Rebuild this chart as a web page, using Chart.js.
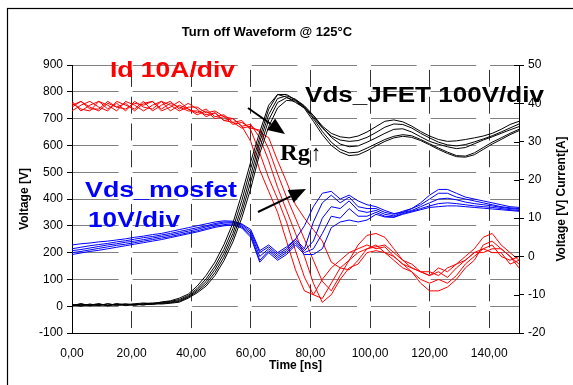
<!DOCTYPE html>
<html>
<head>
<meta charset="utf-8">
<script src="https://cdn.jsdelivr.net/npm/chart.js@4.4.1/dist/chart.umd.min.js"></script>
<style>
  html, body { margin: 0; padding: 0; background: #fff; }
  #wrap { width: 573px; height: 385px; }
</style>
</head>
<body>
<div id="wrap"><canvas id="chart" width="573" height="385"></canvas></div>
<script>
// Turn off waveform data
const timeNs = [0, 3, 6, 9, 12, 15, 18, 21, 24, 27, 30, 33, 36, 39, 42, 45, 48, 51, 54, 57,
    60, 63, 66, 69, 72, 75, 78, 81, 84, 87, 90, 93, 96, 99, 102, 105, 108, 111, 114, 117,
    120, 123, 126, 129, 132, 135, 138, 141, 144, 147, 150];

const xTicks = [0, 20, 40, 60, 80, 100, 120, 140];
const leftTicks = [-100, 0, 100, 200, 300, 400, 500, 600, 700, 800, 900];
const rightTicks = [-20, -10, 0, 10, 20, 30, 40, 50];

// Vds JFET [V], left axis, one array per Rg value
const vdsJfetRuns = [
    [3, 9, 1, 7, 2, 10, 4, 9, 12, 8, 16, 20, 30,
     45, 75, 115, 165, 230, 310, 420, 540, 650, 750, 790, 780,
     760, 740, 712, 672, 645, 632, 628, 635, 650, 670, 690, 695, 688, 672, 652, 635, 622, 615, 617, 622, 628, 635, 645, 660, 678, 690],
    [6, 2, 8, 3, 9, 4, 7, 3, 10, 12, 14, 18, 25,
     40, 66, 102, 150, 212, 290, 395, 515, 630, 735, 790, 790,
     770, 745, 705, 665, 635, 620, 615, 618, 630, 648, 668, 680, 678, 665, 645, 628, 612, 602, 598, 603, 613, 624, 636, 650, 665, 680],
    [1, 7, 4, 10, 1, 6, 9, 5, 8, 6, 12, 15, 21,
     36, 60, 92, 138, 197, 272, 370, 490, 612, 715, 775, 785,
     772, 748, 712, 668, 630, 605, 595, 598, 612, 628, 645, 660, 662, 650, 632, 615, 604, 595, 588, 592, 606, 620, 632, 645, 658, 670],
    [5, 0, 7, 2, 9, 3, 6, 8, 5, 9, 10, 13, 18,
     33, 55, 83, 126, 183, 256, 350, 465, 590, 695, 760, 778,
     768, 742, 700, 652, 612, 585, 572, 575, 590, 606, 622, 634, 640, 636, 622, 606, 590, 575, 562, 560, 572, 592, 612, 628, 645, 660],
    [2, 9, 3, 7, 4, 8, 2, 6, 5, 10, 8, 11, 15,
     30, 50, 75, 115, 170, 240, 330, 440, 570, 670, 740, 768,
     765, 738, 690, 640, 600, 575, 562, 565, 580, 598, 615, 628, 634, 630, 618, 602, 585, 570, 558, 556, 565, 585, 605, 622, 640, 655]
];

// Id [A], right axis
const idRuns = [
    [40.5, 38, 39.5, 40.5, 38.5, 40, 38, 40.5, 39, 38.5, 40.5, 39.5, 38, 39,
     39, 37.5, 38, 36.5, 36, 34,
     30, 22.6, 17, 11.5, 4, -3.5, -9, -10, -6, -3, -1,
     1, 2, 3, 2, 2.5, 0, -2, -3, -4, -5, -4, -5.5, -3, -1, 1, 2, 3, 0, -1, 0],
    [39, 40.5, 38.5, 38.5, 40.5, 39, 40, 38, 40, 40.5, 38, 39, 40.5, 38.5,
     37.5, 38.5, 36.5, 37, 35, 35.5,
     33, 27, 20.5, 15, 9, 1.5, -5.4, -10, -11, -7, -3,
     -1, 1, 2, 3, 1, -1, -3, -4, -6, -7, -6, -7, -5, -2, 0, 2, 1, 1, -2, -1],
    [38, 39.5, 40.5, 39, 38, 40.5, 39.5, 38.5, 40.5, 38, 39.5, 40.5, 38.5, 40,
     38.5, 36.5, 37.5, 35.5, 36, 34,
     34.5, 31, 25, 18, 12, 6, 0, -7, -12, -10, -6,
     -3, -2, 1, 1.5, 1, 0, -2, -4, -7, -9, -9, -8, -6, -3, -1, 3, 4, 2, 0, -2],
    [40, 38.5, 38, 40.5, 39.5, 38, 40.5, 39.5, 38, 39.5, 40.5, 38, 39.5, 38.5,
     37, 38, 36, 36.5, 34.5, 35,
     33.5, 33, 28, 21.5, 15.5, 10, 4.5, -1, -6.5, -9, -5,
     -1, 3, 5.5, 6, 5, 2, -1, -3, -4, -5, -3, -4, -2, 0, 2, 5, 6, 3, 1, -1],
    [39.5, 40.5, 39, 38, 40, 39, 38.5, 40, 39.5, 40.5, 38.5, 40, 39, 38,
     38, 37, 37.5, 35.5, 35, 33.5,
     34, 32.5, 31, 25, 19.5, 13.5, 10, 7, 4, -1.5, -3,
     -3.5, -1, 2, 2.5, 3, 1, -1, -2, -4, -4, -5, -3, -2, -1, 1, 1, 2, 2, 0, -3]
];

// Vds MOSFET [V], right axis
const vdsMosRuns = [
    [3, 3.3, 3.5, 3.8, 4, 4.3, 4.6, 5, 5.3, 5.7, 6, 6.5, 7, 7.5, 8, 8.5, 9, 9.3, 9.2, 8.5,
     7, 1.5, 3, 1, 2.5, 4.5, 8, 13, 16.5, 17, 15, 16, 14.5, 13.5, 13, 12, 11.2, 11.5, 12.5, 14,
     16, 17.5, 17.5, 16.5, 15.5, 15, 14.5, 14, 13.5, 13, 12.8],
    [2, 2.4, 2.8, 3.1, 3.4, 3.8, 4.1, 4.5, 4.9, 5.2, 5.6, 6, 6.5, 7, 7.5, 8, 8.6, 9, 9, 8.3,
     6.5, 1, 2.5, 0.5, 2, 4.5, 2, 9, 14, 16, 14, 15.5, 13, 12.5, 12.5, 11.5, 11, 11.8, 12.5, 13.5,
     15, 16.5, 16.5, 15.5, 15, 14.5, 14, 13.5, 13, 12.7, 12.5],
    [1.5, 1.8, 2.2, 2.6, 3, 3.3, 3.7, 4, 4.4, 4.8, 5.2, 5.6, 6.1, 6.6, 7.1, 7.7, 8.3, 8.7, 8.8, 8,
     6, 0, 2, 0, 1.5, 4, 1.5, 4, 10, 13, 12.5, 14.5, 12, 11.5, 12, 11, 10.6, 11.5, 12, 13,
     14, 15, 15.2, 14.8, 14.2, 13.8, 13.5, 13.2, 12.8, 12.5, 12.3],
    [1, 1.3, 1.7, 2.1, 2.5, 2.9, 3.2, 3.6, 4, 4.4, 4.8, 5.2, 5.7, 6.2, 6.7, 7.3, 7.9, 8.3, 8.5, 7.7,
     5.5, -1, 1.5, -0.5, 1, 3.5, 1, 2, 6, 10.5, 10, 12.5, 10.5, 10.5, 11.5, 10.5, 10.3, 11.2, 11.8, 12.5,
     13.2, 13.8, 14, 13.8, 13.5, 13.2, 13, 12.8, 12.5, 12.2, 12],
    [0.5, 0.9, 1.3, 1.6, 2, 2.4, 2.8, 3.2, 3.6, 4, 4.4, 4.9, 5.4, 5.9, 6.4, 7, 7.6, 8, 8.2, 7.4,
     5, -1.5, 1, -1, 0.5, 3, 0.5, 0.5, 2, 7.5, 9, 9.5, 9, 9.5, 11, 10.3, 10.2, 11, 11.6, 12.2,
     12.8, 13, 13.2, 13.2, 13, 12.8, 12.6, 12.4, 12.2, 12, 11.8]
];

const FONT = "'Liberation Sans', Arial, sans-serif";
const SERIF = "'Liberation Serif', 'Times New Roman', serif";

function toPoints(values) {
    return values.map((v, i) => ({ x: timeNs[i], y: v }));
}

function makeDataset(values, color, axis) {
    return {
        data: toPoints(values),
        borderColor: color,
        borderWidth: 1,
        pointRadius: 0,
        tension: 0,
        fill: false,
        yAxisID: axis
    };
}

const datasets = [];
vdsJfetRuns.forEach(run => datasets.push(makeDataset(run, '#000000', 'y')));
vdsMosRuns.forEach(run => datasets.push(makeDataset(run, '#0000ff', 'y1')));
idRuns.forEach(run => datasets.push(makeDataset(run, '#ff0000', 'y1')));

// text squeezed/stretched into a box, like the pasted labels of the original
function boxText(ctx, text, left, right, baseline, font, color) {
    ctx.save();
    ctx.font = font;
    ctx.fillStyle = color;
    ctx.textBaseline = 'alphabetic';
    ctx.textAlign = 'left';
    const w = ctx.measureText(text).width;
    ctx.translate(left, baseline);
    ctx.scale((right - left) / w, 1);
    ctx.fillText(text, 0, 0);
    ctx.restore();
}

function arrow(ctx, x1, y1, x2, y2) {
    const ang = Math.atan2(y2 - y1, x2 - x1);
    const len = 17, half = 7;
    const bx = x2 - len * Math.cos(ang), by = y2 - len * Math.sin(ang);
    ctx.save();
    ctx.strokeStyle = '#000';
    ctx.fillStyle = '#000';
    ctx.lineWidth = 2;
    ctx.beginPath();
    ctx.moveTo(x1, y1);
    ctx.lineTo(bx, by);
    ctx.stroke();
    ctx.beginPath();
    ctx.moveTo(x2, y2);
    ctx.lineTo(bx + half * Math.sin(ang), by - half * Math.cos(ang));
    ctx.lineTo(bx - half * Math.sin(ang), by + half * Math.cos(ang));
    ctx.closePath();
    ctx.fill();
    ctx.restore();
}

const decorations = {
    id: 'decorations',
    beforeDraw(chart) {
        const ctx = chart.ctx;
        ctx.save();
        ctx.fillStyle = '#fff';
        ctx.fillRect(0, 0, chart.width, chart.height);
        ctx.strokeStyle = '#000';
        ctx.lineWidth = 1.2;
        ctx.strokeRect(7.5, 8.5, 900, 900);
        ctx.restore();
    },
    afterDraw(chart) {
        const ctx = chart.ctx;
        const area = chart.chartArea;
        const y1 = chart.scales.y1;

        // inner half of the right axis tick marks
        ctx.save();
        ctx.strokeStyle = '#000';
        ctx.lineWidth = 1;
        y1.ticks.forEach(t => {
            const py = Math.round(y1.getPixelForValue(t.value)) + 0.5;
            ctx.beginPath();
            ctx.moveTo(area.right - 5, py);
            ctx.lineTo(area.right, py);
            ctx.stroke();
        });

        // title and axis titles
        ctx.fillStyle = '#000';
        ctx.textAlign = 'center';
        ctx.textBaseline = 'middle';
        ctx.font = 'bold 13px ' + FONT;
        ctx.fillText('Turn off Waveform @ 125°C', 267, 32);
        ctx.font = 'bold 12px ' + FONT;
        ctx.fillText('Time [ns]', 295.5, 366);

        ctx.save();
        ctx.translate(25, 199);
        ctx.rotate(-Math.PI / 2);
        ctx.fillText('Voltage [V]', 0, 0);
        ctx.restore();

        ctx.save();
        ctx.translate(562, 199);
        ctx.rotate(-Math.PI / 2);
        ctx.fillText('Voltage [V] Current[A]', 0, 0);
        ctx.restore();
        ctx.restore();

        // pasted labels
        boxText(ctx, 'Id 10A/div', 110, 235, 77, 'bold 22px ' + FONT, '#ff0000');
        boxText(ctx, 'Vds_JFET 100V/div', 305, 544, 102, 'bold 22px ' + FONT, '#000000');
        boxText(ctx, 'Vds_mosfet', 85, 237, 197, 'bold 22px ' + FONT, '#0000ff');
        boxText(ctx, '10V/div', 88, 180, 227, 'bold 22px ' + FONT, '#0000ff');
        boxText(ctx, 'Rg', 280, 310, 160, 'bold 24px ' + SERIF, '#000000');
        boxText(ctx, '↑', 311, 321, 160, '22px ' + SERIF, '#000000');

        arrow(ctx, 248, 108, 285, 134);
        arrow(ctx, 258, 212, 306, 189);
    }
};

new Chart(document.getElementById('chart'), {
    type: 'line',
    data: { datasets: datasets },
    options: {
        responsive: false,
        devicePixelRatio: 1,
        animation: false,
        layout: { padding: { top: 65, left: 0, right: 0, bottom: 0 } },
        plugins: {
            legend: { display: false },
            tooltip: { enabled: false },
            title: { display: false }
        },
        scales: {
            x: {
                type: 'linear',
                min: 0,
                max: 150,
                afterBuildTicks: scale => { scale.ticks = xTicks.map(v => ({ value: v })); },
                afterFit: scale => { scale.height = 52; },
                ticks: {
                    color: '#000',
                    font: { family: FONT, size: 12 },
                    padding: 13,
                    maxRotation: 0,
                    autoSkip: false,
                    callback: v => v.toFixed(2).replace('.', ',')
                },
                grid: { color: '#333333', lineWidth: 1, drawTicks: false },
                border: { color: '#000', width: 1, dash: [17, 9.8], dashOffset: 21.9 }
            },
            y: {
                position: 'left',
                min: -100,
                max: 900,
                afterBuildTicks: scale => { scale.ticks = leftTicks.map(v => ({ value: v })); },
                afterFit: scale => { scale.width = 72; },
                ticks: {
                    color: '#000',
                    font: { family: FONT, size: 12 },
                    padding: 4,
                    autoSkip: false
                },
                grid: { color: '#808080', lineWidth: 1, tickLength: 5, tickColor: '#000' },
                border: { color: '#000', width: 1, dash: [45.6, 14] }
            },
            y1: {
                position: 'right',
                min: -20,
                max: 50,
                afterBuildTicks: scale => { scale.ticks = rightTicks.map(v => ({ value: v })); },
                afterFit: scale => { scale.width = 54; },
                ticks: {
                    color: '#000',
                    font: { family: FONT, size: 12 },
                    padding: 4,
                    autoSkip: false
                },
                grid: { drawOnChartArea: false, tickLength: 5, color: '#000' },
                border: { color: '#000', width: 1 }
            }
        }
    },
    plugins: [decorations]
});
</script>
</body>
</html>
